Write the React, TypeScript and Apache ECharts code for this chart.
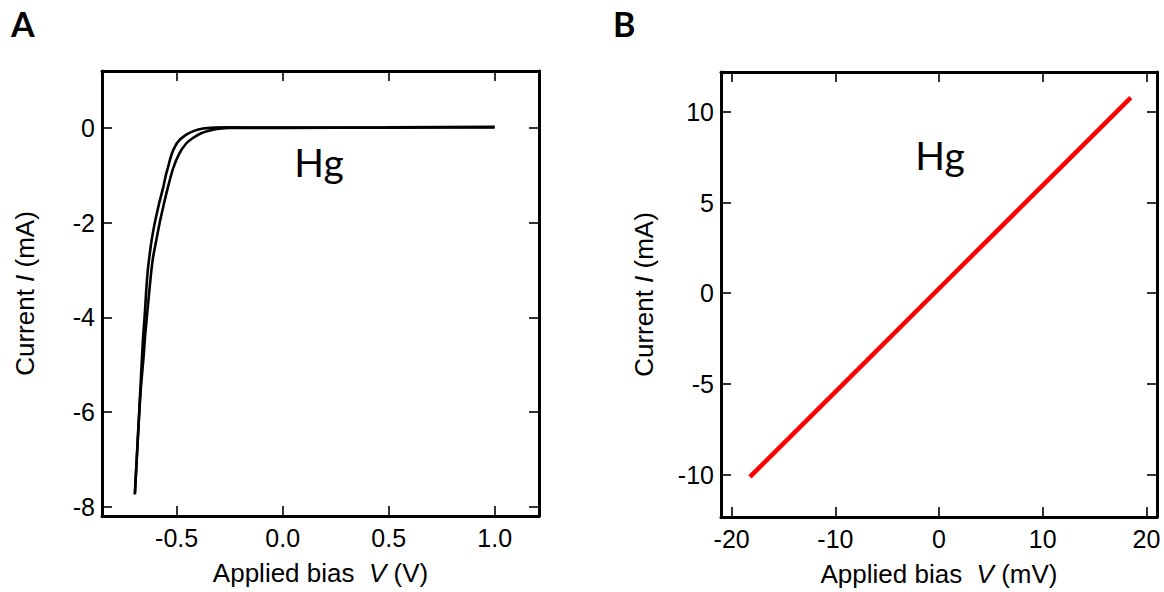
import React, { useEffect, useRef } from 'react';
import * as echarts from 'echarts';

// Panel A: Hg, two sweep branches (V in volts, I in mA)
const outerV = [-0.697, -0.681, -0.671, -0.665, -0.658, -0.65, -0.643, -0.636, -0.628, -0.618, -0.603, -0.583, -0.563, -0.551, -0.54, -0.528, -0.516, -0.495, -0.458, -0.418, -0.375, -0.32, -0.26, 0.0, 0.5, 1.0];
const outerI = [-7.73, -6.38, -5.5, -4.98, -4.4, -3.92, -3.4, -3.0, -2.7, -2.37, -2.0, -1.6, -1.25, -1.0, -0.82, -0.62, -0.47, -0.3, -0.154, -0.063, -0.013, 0.005, 0.01, 0.005, 0.01, 0.02];
const innerV = [1.0, 0.5, 0.0, -0.25, -0.3, -0.348, -0.387, -0.425, -0.455, -0.487, -0.517, -0.541, -0.56, -0.58, -0.596, -0.61, -0.619, -0.628, -0.639, -0.649, -0.656, -0.669, -0.681, -0.697];
const innerI = [0.01, 0.005, 0.0, 0.0, -0.02, -0.063, -0.12, -0.22, -0.33, -0.54, -0.86, -1.25, -1.6, -2.0, -2.37, -2.7, -3.0, -3.4, -3.92, -4.4, -4.84, -5.5, -6.38, -7.73];

// Panel B: Hg, small-bias linear response (V in mV, I in mA)
const linearV = [-18.24, -10, 0, 10, 18.49];
const linearI = [-10.13, -5.44, 0.26, 5.95, 10.79];

// Tick labels
const xTicksA = [-0.5, 0.0, 0.5, 1.0];
const yTicksA = [-8, -6, -4, -2, 0];
const xTicksB = [-20, -10, 0, 10, 20];
const yTicksB = [-10, -5, 0, 5, 10];

const FONT = "'Liberation Sans', Arial, sans-serif";
const LABEL_FONT = "Lato, 'Open Sans', sans-serif";

const zip = (a: number[], b: number[]) => a.map((v, i) => [v, b[i]]);
const inList = (list: number[], v: number) => list.some((t) => Math.abs(t - v) < 1e-6);

const nameStyle = {
  fontFamily: FONT,
  fontSize: 26,
  color: '#000',
  rich: {
    i: { fontFamily: FONT, fontSize: 26, color: '#000', fontStyle: 'italic' },
  },
};

function axis(
  kind: 'x' | 'y',
  gridIndex: number,
  min: number,
  max: number,
  splitNumber: number,
  ticks: number[],
  decimals: number,
  primary: boolean,
  name?: string
) {
  const position = kind === 'x' ? (primary ? 'bottom' : 'top') : primary ? 'left' : 'right';
  const a: any = {
    type: 'value',
    gridIndex,
    position,
    min,
    max,
    splitNumber,
    scale: true,
    splitLine: { show: false },
    axisLine: { show: true, onZero: false, lineStyle: { color: '#000', width: 3 } },
    axisTick: { show: true, inside: true, length: 10, lineStyle: { color: '#000', width: 1.6 } },
    axisLabel: {
      show: primary,
      showMinLabel: false,
      showMaxLabel: false,
      margin: kind === 'x' ? 9 : 7,
      fontFamily: FONT,
      fontSize: 25,
      color: '#000',
      formatter: (v: number) => (inList(ticks, v) ? v.toFixed(decimals) : ''),
    },
  };
  if (primary && name) {
    a.name = name;
    a.nameLocation = 'middle';
    a.nameGap = kind === 'x' ? 44 : 64;
    a.nameTextStyle = nameStyle;
  }
  return a;
}

export default function App() {
  const ref = useRef<HTMLDivElement>(null);

  useEffect(() => {
    if (!ref.current) return;
    const chart = echarts.init(ref.current, undefined, { renderer: 'svg' });
    const option: any = {
      animation: false,
      backgroundColor: '#fff',
      grid: [
        { left: 102, top: 71, width: 437, height: 445, outerBoundsMode: 'none' },
        { left: 721, top: 72, width: 436, height: 445, outerBoundsMode: 'none' },
      ],
      xAxis: [
        axis('x', 0, -0.852, 1.209, 4, xTicksA, 1, true, 'Applied bias  {i|V} (V)'),
        axis('x', 0, -0.852, 1.209, 4, xTicksA, 1, false),
        axis('x', 1, -21.03, 21.02, 4, xTicksB, 0, true, 'Applied bias  {i|V} (mV)'),
        axis('x', 1, -21.03, 21.02, 4, xTicksB, 0, false),
      ],
      yAxis: [
        axis('y', 0, -8.19, 1.2, 5, yTicksA, 0, true, 'Current {i|I} (mA)'),
        axis('y', 0, -8.19, 1.2, 5, yTicksA, 0, false),
        axis('y', 1, -12.34, 12.2, 5, yTicksB, 0, true, 'Current {i|I} (mA)'),
        axis('y', 1, -12.34, 12.2, 5, yTicksB, 0, false),
      ],
      series: [
        {
          type: 'line',
          xAxisIndex: 0,
          yAxisIndex: 0,
          data: zip(outerV, outerI),
          showSymbol: false,
          smooth: 0.15,
          lineStyle: { color: '#000', width: 2.6 },
        },
        {
          type: 'line',
          xAxisIndex: 0,
          yAxisIndex: 0,
          data: zip(innerV, innerI),
          showSymbol: false,
          smooth: 0.15,
          lineStyle: { color: '#000', width: 2.6 },
        },
        {
          type: 'line',
          xAxisIndex: 2,
          yAxisIndex: 2,
          data: zip(linearV, linearI),
          showSymbol: false,
          lineStyle: { color: '#ff0000', width: 4.5 },
        },
      ],
      graphic: [
        {
          type: 'text',
          left: 11,
          top: 6,
          style: { text: 'A', fontFamily: LABEL_FONT, fontWeight: 'bold', fontSize: 34, fill: '#000' },
        },
        {
          type: 'text',
          left: 613,
          top: 6,
          style: { text: 'B', fontFamily: LABEL_FONT, fontWeight: 'bold', fontSize: 34, fill: '#000' },
        },
        {
          type: 'text',
          x: 319,
          y: 162,
          style: { text: 'Hg', fontFamily: LABEL_FONT, fontSize: 39, fill: '#000', align: 'center', verticalAlign: 'middle' },
        },
        {
          type: 'text',
          x: 940,
          y: 155,
          style: { text: 'Hg', fontFamily: LABEL_FONT, fontSize: 39, fill: '#000', align: 'center', verticalAlign: 'middle' },
        },
      ],
    };
    chart.setOption(option);
    return () => chart.dispose();
  }, []);

  return (
    <div
      ref={ref}
      style={{ position: 'fixed', left: 0, top: 0, width: 1164, height: 592, background: '#fff' }}
    />
  );
}
